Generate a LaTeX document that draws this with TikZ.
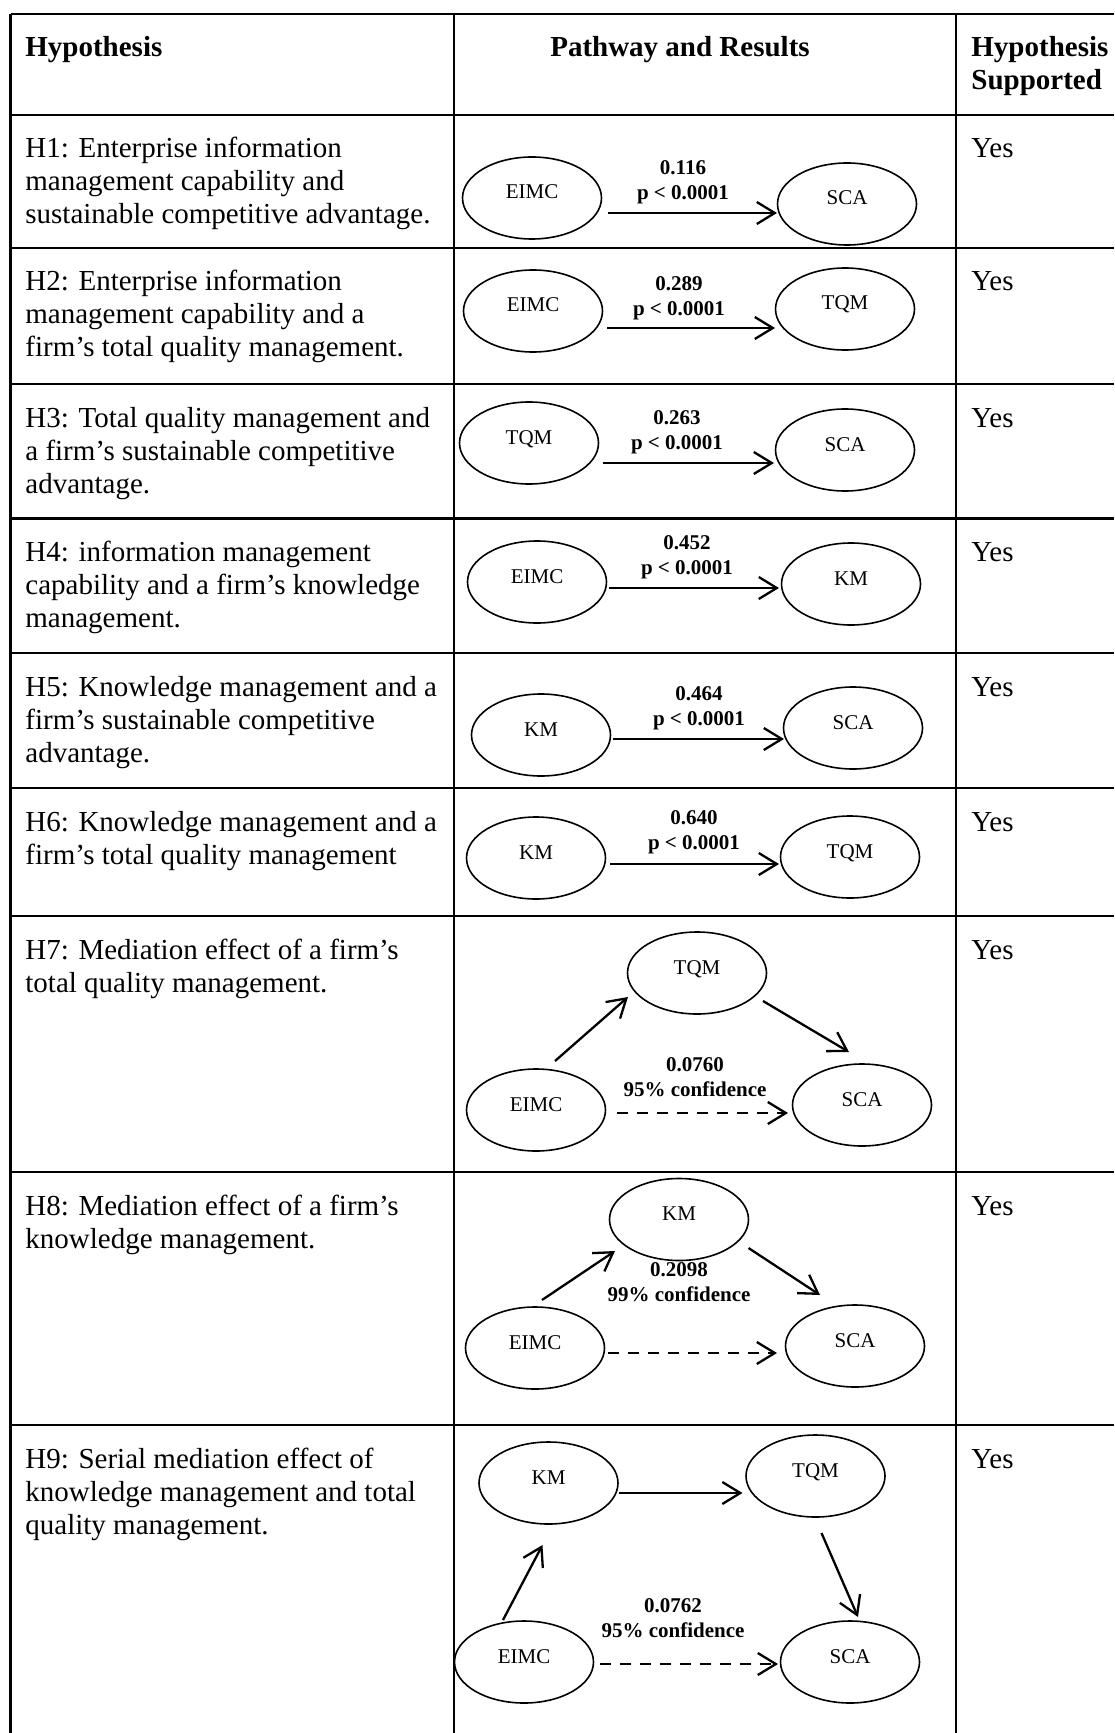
\documentclass[tikz,border=0pt]{standalone}
\usepackage{fontspec}
\setmainfont{Liberation Serif}
\usetikzlibrary{arrows.meta,shapes.geometric,calc}

\begin{document}
\begin{tikzpicture}[x=0.5pt,y=-0.5pt,
  rule/.style={line width=1.1pt},
  construct/.style={ellipse, draw, line width=0.8pt, minimum width=69.5pt,
    minimum height=41pt, inner sep=0pt,
    font=\fontsize{10.5pt}{12pt}\selectfont, text height=7pt, text depth=6pt},
  link/.style={line width=1.15pt,
    -{Straight Barb[length=9pt,width=11pt,line width=1.15pt]}},
  mediated/.style={link, dash pattern=on 5.5pt off 4.5pt},
  coef/.style={font=\bfseries\fontsize{10.5pt}{12.5pt}\selectfont,
    align=center, anchor=north, inner sep=0pt},
  hyp/.style={anchor=base west, inner sep=0pt,
    font=\fontsize{14.5pt}{16.5pt}\selectfont},
  head/.style={hyp, font=\bfseries\fontsize{14.5pt}{16.5pt}\selectfont}
]
\newcommand{\cell}[1]{\parbox[t]{215pt}{\raggedright #1}}

% page
\fill[white] (0,0) rectangle (1114,1733);
\useasboundingbox (0,0) rectangle (1114,1733);

% table rules
\foreach \y in {14,115,248,384,518.5,653,788,916,1172,1425}
  \draw[rule] (10.5,\y) -- (1114,\y);
\foreach \x in {10.5,454,956}
  \draw[rule] (\x,14) -- (\x,1733);

% header
\node[head] (hh) at (25,57) {Hypothesis};
\node[head, anchor=base] (hp) at (680,57) {Pathway and Results};
\node[head] (hs) at (971,57) {\cell{Hypothesis\\Supported}};

% hypothesis column
\node[hyp] (t1) at (25,158) {\cell{H1: Enterprise information\\management capability and\\sustainable competitive advantage.}};
\node[hyp] (t2) at (25,291) {\cell{H2: Enterprise information\\management capability and a\\firm’s total quality management.}};
\node[hyp] (t3) at (25,427) {\cell{H3: Total quality management and\\a firm’s sustainable competitive\\advantage.}};
\node[hyp] (t4) at (25,561.5) {\cell{H4: information management\\capability and a firm’s knowledge\\management.}};
\node[hyp] (t5) at (25,696) {\cell{H5: Knowledge management and a\\firm’s sustainable competitive\\advantage.}};
\node[hyp] (t6) at (25,831) {\cell{H6: Knowledge management and a\\firm’s total quality management}};
\node[hyp] (t7) at (25,959) {\cell{H7: Mediation effect of a firm’s\\total quality management.}};
\node[hyp] (t8) at (25,1215) {\cell{H8: Mediation effect of a firm’s\\knowledge management.}};
\node[hyp] (t9) at (25,1468) {\cell{H9: Serial mediation effect of\\knowledge management and total\\quality management.}};

% supported column
\foreach \y [count=\i] in {158,291,427,561.5,696,831,959,1215,1468}
  \node[hyp] (y\i) at (971,\y) {Yes};

% H1
\node[construct] (e1a) at (532,198) {EIMC};
\node[construct] (e1b) at (847,204) {SCA};
\draw[link] ($(e1a)+(76,15)$) -- ($(e1b)+(-70,9)$);
\node[coef] (c1) at (683,160) {0.116\\p < 0.0001};

% H2
\node[construct] (e2a) at (533,311) {EIMC};
\node[construct] (e2b) at (845,309) {TQM};
\draw[link] ($(e2a)+(74,17)$) -- ($(e2b)+(-70,19)$);
\node[coef] (c2) at (679,276) {0.289\\p < 0.0001};

% H3
\node[construct] (e3a) at (529,443) {TQM};
\node[construct] (e3b) at (845,450) {SCA};
\draw[link] ($(e3a)+(74,20)$) -- ($(e3b)+(-71,13)$);
\node[coef] (c3) at (677,410) {0.263\\p < 0.0001};

% H4
\node[construct] (e4a) at (537,582) {EIMC};
\node[construct] (e4b) at (851,584) {KM};
\draw[link] ($(e4a)+(72,6)$) -- ($(e4b)+(-72,4)$);
\node[coef] (c4) at (687,535) {0.452\\p < 0.0001};

% H5
\node[construct] (e5a) at (541,735) {KM};
\node[construct] (e5b) at (853,728) {SCA};
\draw[link] ($(e5a)+(72,4)$) -- ($(e5b)+(-69,11)$);
\node[coef] (c5) at (699,686) {0.464\\p < 0.0001};

% H6
\node[construct] (e6a) at (536,858) {KM};
\node[construct] (e6b) at (850,857) {TQM};
\draw[link] ($(e6a)+(74,6)$) -- ($(e6b)+(-71,7)$);
\node[coef] (c6) at (694,810) {0.640\\p < 0.0001};

% H7: mediation through TQM
\node[construct] (e7m) at (697,973) {TQM};
\node[construct] (e7a) at (536,1110) {EIMC};
\node[construct] (e7b) at (862,1105) {SCA};
\draw[link] ($(e7a)+(19,-49)$) -- ($(e7m)+(-69,24)$);
\draw[link] ($(e7m)+(66,28)$) -- ($(e7b)+(-13,-53)$);
\draw[mediated] ($(e7a)+(81,3)$) -- ($(e7b)+(-74,8)$);
\node[coef] (c7) at (695,1057) {0.0760\\95\% confidence};

% H8: mediation through KM
\node[construct] (e8m) at (679,1219.5) {KM};
\node[construct] (e8a) at (535,1348) {EIMC};
\node[construct] (e8b) at (855,1346) {SCA};
\draw[link] ($(e8a)+(7,-48)$) -- ($(e8m)+(-64,31.5)$);
\draw[link] ($(e8m)+(69.5,28.5)$) -- ($(e8b)+(-35,-51)$);
\draw[mediated] ($(e8a)+(73,5)$) -- ($(e8b)+(-78,7)$);
\node[coef] (c8) at (679,1262) {0.2098\\99\% confidence};

% H9: serial mediation KM -> TQM
\node[construct] (e9k) at (548.5,1483) {KM};
\node[construct] (e9t) at (815.5,1476) {TQM};
\node[construct] (e9a) at (524,1662) {EIMC};
\node[construct] (e9b) at (850,1662) {SCA};
\draw[link] ($(e9k)+(70,10)$) -- ($(e9t)+(-73,17)$);
\draw[link] ($(e9a)+(-21,-42)$) -- ($(e9k)+(-6,62)$);
\draw[link] ($(e9t)+(6,57)$) -- ($(e9b)+(8,-45)$);
\draw[mediated] ($(e9a)+(76,2)$) -- ($(e9b)+(-72,2)$);
\node[coef] (c9) at (673,1598) {0.0762\\95\% confidence};
\end{tikzpicture}
\end{document}
